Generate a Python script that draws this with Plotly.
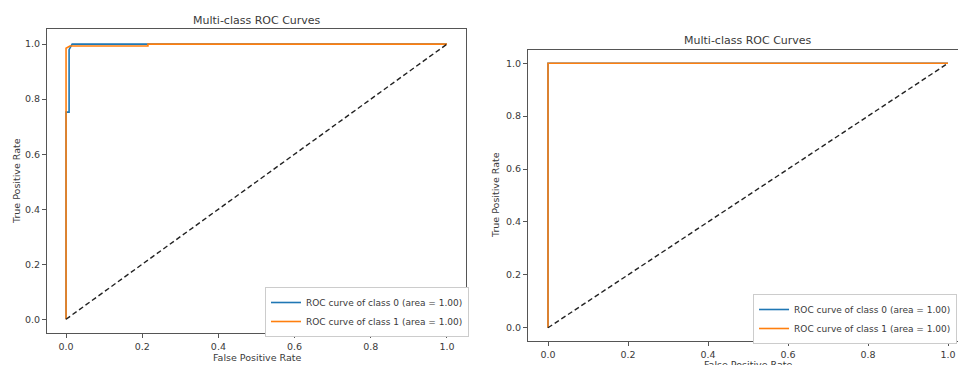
import plotly.graph_objects as go

W, H = 958, 365

# ---- data ----
left_fpr_class0 = [0.0, 0.0, 0.008, 0.008, 0.016, 1.0]
left_tpr_class0 = [0.0, 0.753, 0.753, 0.98, 1.0, 1.0]
left_fpr_class1 = [0.0, 0.0, 0.01, 0.215, 0.215, 1.0]
left_tpr_class1 = [0.0, 0.985, 0.993, 0.993, 1.0, 1.0]

right_fpr_class0 = [0.0, 0.0, 1.0]
right_tpr_class0 = [0.0, 1.0, 1.0]
right_fpr_class1 = [0.0, 0.0, 1.0]
right_tpr_class1 = [0.0, 1.0, 1.0]

chance_line = [0.0, 1.0]
tick_vals = [0.0, 0.2, 0.4, 0.6, 0.8, 1.0]
legend_names = ["ROC curve of class 0 (area = 1.00)", "ROC curve of class 1 (area = 1.00)"]
title_text = "Multi-class ROC Curves"
x_title = "False Positive Rate"
y_title = "True Positive Rate"

BLUE = "#1f77b4"
ORANGE = "#ff7f0e"
TXT = "#3a3a3a"
FONT = "DejaVu Sans"

def px_x(p):
    return p / W

def px_y(p):
    return 1 - p / H

fig = go.Figure()

# left panel
fig.add_trace(go.Scatter(x=left_fpr_class0, y=left_tpr_class0, mode="lines", name=legend_names[0],
                         line=dict(color=BLUE, width=1.6), xaxis="x", yaxis="y", legend="legend"))
fig.add_trace(go.Scatter(x=left_fpr_class1, y=left_tpr_class1, mode="lines", name=legend_names[1],
                         line=dict(color=ORANGE, width=1.6), xaxis="x", yaxis="y", legend="legend"))
fig.add_trace(go.Scatter(x=chance_line, y=chance_line, mode="lines", showlegend=False,
                         line=dict(color="#222222", width=1.4, dash="5px,3px"), xaxis="x", yaxis="y"))

# right panel
fig.add_trace(go.Scatter(x=right_fpr_class0, y=right_tpr_class0, mode="lines", name=legend_names[0],
                         line=dict(color=BLUE, width=1.6), xaxis="x2", yaxis="y2", legend="legend2"))
fig.add_trace(go.Scatter(x=right_fpr_class1, y=right_tpr_class1, mode="lines", name=legend_names[1],
                         line=dict(color=ORANGE, width=1.6), xaxis="x2", yaxis="y2", legend="legend2"))
fig.add_trace(go.Scatter(x=chance_line, y=chance_line, mode="lines", showlegend=False,
                         line=dict(color="#222222", width=1.4, dash="5px,3px"), xaxis="x2", yaxis="y2"))

axis_common = dict(showgrid=False, zeroline=False, showline=True, linecolor="#555555", linewidth=1.2,
                   ticks="outside", ticklen=4, tickcolor="#555555", tickvals=tick_vals,
                   tickformat=".1f", tickfont=dict(family=FONT, size=9.5, color=TXT))

fig.update_layout(
    width=W, height=H,
    autosize=False,
    margin=dict(l=0, r=0, t=0, b=0),
    paper_bgcolor="white", plot_bgcolor="white",
    font=dict(family=FONT, color=TXT),
    xaxis=dict(domain=[px_x(47), px_x(466)], range=[-0.05, 1.05], anchor="y", mirror=True, **axis_common),
    yaxis=dict(domain=[px_y(333), px_y(29)], range=[-0.05, 1.055], anchor="x", mirror=True, **axis_common),
    xaxis2=dict(domain=[px_x(528), 1.0], range=[-0.05, 1.025], anchor="y2", mirror=True, **axis_common),
    yaxis2=dict(domain=[px_y(341), px_y(50)], range=[-0.05, 1.05], anchor="x2", mirror=False, **axis_common),
    legend=dict(x=px_x(265), y=px_y(287), xanchor="left", yanchor="top",
                bgcolor="white", bordercolor="#cccccc", borderwidth=1,
                font=dict(family=FONT, size=9, color=TXT), itemwidth=30,
                tracegroupgap=0),
    legend2=dict(x=0.999, y=px_y(294), xanchor="right", yanchor="top",
                 bgcolor="white", bordercolor="#cccccc", borderwidth=1,
                 font=dict(family=FONT, size=9, color=TXT), itemwidth=30,
                 tracegroupgap=0),
)

annos = [
    (px_x(257), px_y(20), title_text, 11, 0),
    (px_x(748), px_y(40), title_text, 11, 0),
    (px_x(257), px_y(357), x_title, 9.5, 0),
    (px_x(748), px_y(364), x_title, 9.5, 0),
    (px_x(16), px_y(181), y_title, 9.5, -90),
    (px_x(495), px_y(195), y_title, 9.5, -90),
]
for x, y, t, s, a in annos:
    fig.add_annotation(x=x, y=y, xref="paper", yref="paper", text=t, showarrow=False,
                       textangle=a, xanchor="center", yanchor="middle",
                       font=dict(family=FONT, size=s, color=TXT))

fig.write_html("out.html",
               config={"responsive": False, "displayModeBar": False},
               post_script="document.body.style.margin='0';document.body.style.overflow='hidden';")
